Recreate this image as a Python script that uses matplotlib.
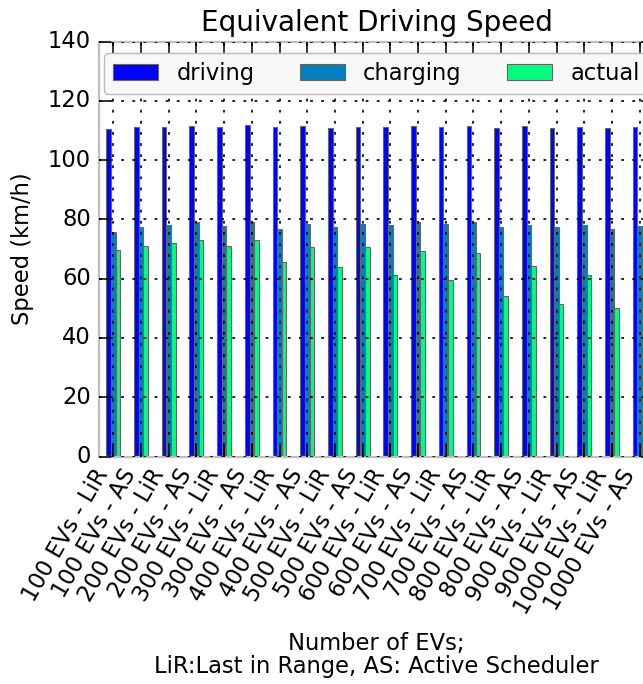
"""Equivalent Driving Speed — grouped bars (driving / charging / actual)."""
import matplotlib

matplotlib.use("Agg")
import matplotlib.pyplot as plt
import numpy as np

plt.style.use("classic")
plt.rcParams["font.family"] = ["DejaVu Sans"]
plt.rcParams["font.size"] = 16.3
plt.rcParams["lines.scale_dashes"] = False

LABELS = [
    "100 EVs - LiR", "100 EVs - AS", "200 EVs - LiR", "200 EVs - AS",
    "300 EVs - LiR", "300 EVs - AS", "400 EVs - LiR", "400 EVs - AS",
    "500 EVs - LiR", "500 EVs - AS", "600 EVs - LiR", "600 EVs - AS",
    "700 EVs - LiR", "700 EVs - AS", "800 EVs - LiR", "800 EVs - AS",
    "900 EVs - LiR", "900 EVs - AS", "1000 EVs - LiR", "1000 EVs - AS",
]
DRIVING = [110.7, 111.3, 111.1, 111.7, 111.2, 111.9, 111.2, 111.7, 110.8, 111.3,
           111.2, 111.6, 111.2, 111.5, 111.0, 111.5, 111.0, 111.2, 110.9, 111.2]
CHARGING = [75.7, 77.5, 78.0, 79.3, 77.9, 79.3, 76.9, 78.4, 77.5, 78.6,
            78.3, 79.3, 78.5, 79.2, 77.5, 78.3, 77.6, 78.2, 76.9, 77.7]
ACTUAL = [69.6, 71.0, 71.9, 73.2, 71.0, 73.0, 65.7, 70.7, 63.8, 70.7,
          61.4, 69.3, 59.7, 68.7, 54.3, 64.4, 51.6, 61.3, 50.0, 56.6]
SERIES = ["driving", "charging", "actual"]

COLORS = ["#0000ff", "#0080bf", "#00ff80"]  # winter colormap

fig = plt.figure(figsize=(6.43, 6.84), dpi=100)
# axes runs past the right edge of the figure, as in the cropped original
ax = fig.add_axes([0.1547, 0.3326, 0.8616, 0.6064])

x = np.arange(len(LABELS))
w = 0.5 / 3
for i, (vals, name) in enumerate(zip([DRIVING, CHARGING, ACTUAL], SERIES)):
    ax.bar(x + (i - 1) * w, vals, w, color=COLORS[i], edgecolor="#666666",
           linewidth=0.8, label=name, align="center")

ax.set_xlim(-0.5, len(LABELS) - 0.5)
ax.set_ylim(0, 140)
ax.set_xticks(x)
ax.set_xticklabels(LABELS, rotation=60, ha="right")
ax.tick_params(direction="in", length=8.5, width=1.1, top=True, right=True, pad=6)
ax.grid(True, color="k", linestyle=(0, (2, 6)), linewidth=1.2)
ax.set_axisbelow(False)
for sp in ax.spines.values():
    sp.set_color("#bfbfbf")
    sp.set_linewidth(1.6)

ax.set_title("Equivalent Driving Speed", fontsize=20, pad=8)
ax.set_ylabel("Speed (km/h)", labelpad=10)
ax.set_xlabel("Number of EVs;\nLiR:Last in Range, AS: Active Scheduler",
              labelpad=10, linespacing=1.0)

leg = ax.legend(loc="upper center", ncol=3, fancybox=True, fontsize=16.3)
leg.get_frame().set_facecolor("#f8f8f8")
leg.get_frame().set_edgecolor("#bbbbbb")

fig.savefig("out.png", dpi=100)
